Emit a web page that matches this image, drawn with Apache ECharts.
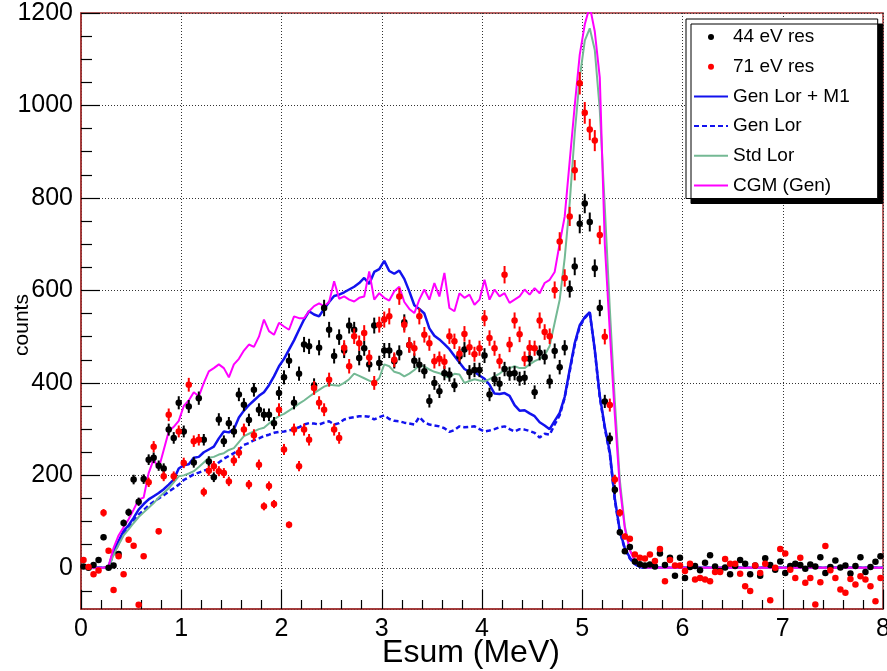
<!DOCTYPE html>
<html>
<head>
<meta charset="utf-8">
<title>Esum spectrum</title>
<script src="https://cdn.jsdelivr.net/npm/echarts@6/dist/echarts.min.js"></script>
<style>
  html, body { margin: 0; padding: 0; background: #fff; }
  #chart { width: 887px; height: 671px; }
</style>
</head>
<body>
<div id="chart"></div>
<script>
// Histogram binning (MeV)
const binStart = 0;
const binWidth = 0.05;
const xRange = [0, 8];
const yRange = [-89, 1200];
const yMinorStep = 50;

// Measured counts per bin, 44 eV resolution
const counts44 = [
  3, 0, 6, 17, 66, 0, 5, 30, 97, 120,
  191, 143, 192, 234, 238, 221, 215, 299, 281, 357,
  295, 349, 228, 367, 277, 230, 196, 321, 274, 313,
  295, 375, 353, 320, 385, 342, 331, 331, 313, 378,
  412, 448, 357, 420, 483, 479, 395, 476, 562, 515,
  458, 499, 470, 524, 515, 454, 475, 440, 524, 443,
  470, 470, 447, 465, 531, 482, 448, 439, 425, 361,
  400, 382, 421, 418, 395, 457, 472, 423, 428, 428,
  459, 375, 408, 398, 430, 420, 421, 409, 411, 452,
  380, 465, 456, 403, 469, 434, 476, 603, 652, 744,
  788, 748, 648, 562, 360, 280, 169, 77, 36, 45,
  14, 8, 5, 7, 3, 31, 6, 22, -17, 22,
  -22, 2, 4, -5, 11, 27, 3, -7, 1, -14,
  4, 17, 9, -14, 5, -17, 21, 6, -4, 14,
  -11, 4, 9, 6, -2, 7, 3, 23, -11, 2,
  16, 1, 5, -12, 4, 23, -9, 2, 13, 25
];

// Measured counts per bin, 71 eV resolution
const counts71 = [
  17, 2, -14, -6, 119, 37, -48, 25, -14, 61,
  48, -80, 25, 185, 262, 79, 198, 331, 198, 295,
  227, 396, 274, 277, 164, 210, 220, 209, 205, 187,
  232, 249, 299, 180, 287, 223, 133, 177, 138, 342,
  256, 93, 299, 220, 299, 277, 389, 357, 342, 407,
  299, 281, 476, 436, 501, 486, 508, 455, 400, 526,
  537, 544, 450, 587, 526, 482, 475, 544, 504, 486,
  447, 452, 446, 501, 490, 463, 506, 477, 462, 475,
  540, 497, 475, 447, 634, 483, 535, 505, 452, 476,
  475, 535, 510, 501, 601, 706, 627, 760, 860, 1048,
  984, 948, 924, 720, 500, 352, 191, 119, 68, 63,
  29, 22, 20, 29, 15, 41, -29, 17, 5, 5,
  -7, 9, -25, -22, -25, -29, -9, -9, 19, 9,
  9, -13, -40, -50, 5, -11, 9, -70, 0, 41,
  31, -4, -22, 22, -32, -22, -79, -31, 47, -5,
  -22, -47, -54, -24, -36, -18, -25, -40, -72, -22
];

// Model spectra, same binning
const genLorM1 = [
  0, 0, 0, 0, 0, 2, 36, 58, 80, 92,
  108, 126, 138, 148, 155, 162, 170, 180, 191, 215,
  222, 224, 238, 240, 250, 256, 262, 280, 295, 293,
  300, 325, 340, 352, 362, 372, 380, 395, 414, 436,
  452, 472, 492, 515, 537, 555, 548, 544, 560, 575,
  588, 591, 596, 602, 608, 616, 627, 614, 640, 646,
  664, 642, 636, 643, 625, 598, 568, 560, 550, 518,
  502, 494, 484, 473, 458, 444, 430, 424, 424, 416,
  409, 396, 377, 376, 378, 372, 352, 340, 341, 334,
  328, 315, 308, 300, 318, 335, 370, 429, 486, 525,
  542, 553, 472, 372, 305, 250, 150, 80, 42, 22,
  9, 2, 0, 0, 0, 0, 0, 0, 0, 0,
  0, 0, 0, 0, 0, 0, 0, 0, 0, 0,
  0, 0, 0, 0, 0, 0, 0, 0, 0, 0,
  0, 0, 0, 0, 0, 0, 0, 0, 0, 0,
  0, 0, 0, 0, 0, 0, 0, 0, 0, 0
];

const genLor = [
  0, 0, 0, 0, 0, 2, 30, 52, 75, 88,
  102, 115, 125, 135, 143, 150, 157, 165, 172, 180,
  190, 196, 202, 206, 210, 214, 218, 228, 236, 242,
  248, 256, 266, 270, 276, 280, 285, 288, 292, 294,
  295, 297, 300, 304, 310, 313, 312, 310, 314, 317,
  310, 313, 321, 324, 326, 328, 328, 327, 321, 326,
  330, 322, 318, 317, 314, 312, 310, 326, 315, 310,
  308, 306, 302, 294, 298, 306, 304, 305, 306, 300,
  295, 297, 300, 304, 306, 300, 295, 300, 299, 296,
  292, 282, 290, 288, 310, 330, 368, 425, 482, 522,
  540, 552, 470, 368, 302, 246, 146, 78, 40, 20,
  8, 2, 0, 0, 0, 0, 0, 0, 0, 0,
  0, 0, 0, 0, 0, 0, 0, 0, 0, 0,
  0, 0, 0, 0, 0, 0, 0, 0, 0, 0,
  0, 0, 0, 0, 0, 0, 0, 0, 0, 0,
  0, 0, 0, 0, 0, 0, 0, 0, 0, 0
];

const stdLor = [
  0, 0, 0, 0, 0, 1, 28, 50, 70, 83,
  97, 110, 120, 130, 140, 152, 162, 172, 185, 198,
  200, 204, 209, 218, 228, 238, 240, 245, 248, 255,
  259, 272, 285, 290, 295, 300, 303, 312, 321, 328,
  333, 340, 347, 355, 362, 370, 378, 385, 392, 396,
  395, 394, 400, 408, 420, 415, 410, 405, 400, 410,
  440, 436, 424, 421, 414, 420, 428, 438, 435, 429,
  424, 421, 415, 411, 420, 418, 400, 404, 408, 405,
  403, 408, 414, 420, 429, 432, 436, 432, 432, 440,
  447, 452, 460, 480, 530, 580, 670, 790, 940, 1060,
  1140, 1167, 1120, 990, 780, 560, 360, 190, 90, 40,
  15, 5, 1, 0, 0, 0, 0, 0, 0, 0,
  0, 0, 0, 0, 0, 0, 0, 0, 0, 0,
  0, 0, 0, 0, 0, 0, 0, 0, 0, 0,
  0, 0, 0, 0, 0, 0, 0, 0, 0, 0,
  0, 0, 0, 0, 0, 0, 0, 0, 0, 0
];

const cgmGen = [
  0, 0, 0, 0, 0, 4, 43, 70, 88, 105,
  126, 148, 152, 205, 235, 215, 255, 295, 305, 318,
  350, 362, 380, 371, 400, 425, 432, 440, 432, 412,
  440, 452, 470, 483, 478, 500, 537, 512, 504, 530,
  522, 515, 544, 540, 540, 555, 566, 572, 566, 575,
  620, 582, 587, 580, 576, 584, 587, 641, 580, 594,
  584, 578, 598, 608, 575, 560, 551, 580, 602, 580,
  616, 587, 638, 562, 555, 594, 584, 591, 569, 580,
  623, 580, 602, 587, 594, 573, 580, 587, 602, 591,
  605, 594, 616, 623, 640, 702, 760, 880, 1000, 1110,
  1175, 1215, 1160, 1060, 700, 510, 330, 175, 85, 38,
  14, 4, 1, 0, 0, 0, 0, 0, 0, 0,
  0, 0, 0, 0, 0, 0, 0, 0, 0, 0,
  0, 0, 0, 0, 0, 0, 0, 0, 0, 0,
  0, 0, 0, 0, 0, 0, 0, 0, 0, 0,
  0, 0, 0, 0, 0, 0, 0, 0, 0, 0
];

const seriesNames = ['44 eV res', '71 eV res', 'Gen Lor + M1', 'Gen Lor', 'Std Lor', 'CGM (Gen)'];
const axisTitles = { x: 'Esum (MeV)', y: 'counts' };

// ---------------------------------------------------------------
const FONT = '"Liberation Sans", Arial, Helvetica, sans-serif';
const FRAME = '#a03030';
const errScale = 0.75;

const binCenters = counts44.map((_, i) => +(binStart + binWidth * (i + 0.5)).toFixed(4));

function lineData(values) {
  const pts = values.map((v, i) => [binCenters[i], v]);
  pts.unshift([xRange[0], values[0]]);
  pts.push([xRange[1], values[values.length - 1]]);
  return pts;
}

function curve(name, values, color, width, dash, z) {
  return {
    name, type: 'line', data: lineData(values),
    symbol: 'none', smooth: false, clip: true, z,
    lineStyle: { color, width, type: dash || 'solid' },
    itemStyle: { color },
    emphasis: { disabled: true }, silent: true, animation: false
  };
}

function points(name, values, color, z) {
  return {
    name, type: 'scatter', data: values.map((v, i) => [binCenters[i], v]),
    symbol: 'circle', symbolSize: 6.5, z, clip: true,
    itemStyle: { color, opacity: 1 },
    emphasis: { disabled: true }, silent: true, animation: false
  };
}

function errorBars(name, values, color, z) {
  return {
    name, type: 'custom', z, clip: true, silent: true, animation: false,
    data: values.map((v, i) => [binCenters[i], v, errScale * Math.sqrt(Math.max(v, 0))]),
    encode: { x: 0, y: 1 },
    renderItem(params, api) {
      const x = api.value(0), y = api.value(1), e = api.value(2);
      const lo = api.coord([x, y - e]);
      const hi = api.coord([x, y + e]);
      return {
        type: 'line',
        shape: { x1: lo[0], y1: lo[1], x2: hi[0], y2: hi[1] },
        style: { stroke: color, lineWidth: 2 }
      };
    }
  };
}

const minorYTicks = [];
for (let v = Math.ceil(yRange[0] / yMinorStep) * yMinorStep; v <= yRange[1]; v += yMinorStep) {
  if (v % 200 !== 0) minorYTicks.push(v);
}

// Legend entries: curves show only their line sample, no marker dot
const hiddenDot = { color: 'rgba(0,0,0,0)', borderColor: 'rgba(0,0,0,0)', borderWidth: 0 };
const legendData = seriesNames.map((name, i) => (i < 2 ? { name } : { name, itemStyle: hiddenDot }));

const chart = echarts.init(document.getElementById('chart'), null, { renderer: 'canvas' });

chart.setOption({
  animation: false,
  backgroundColor: '#fff',
  textStyle: { fontFamily: FONT },
  grid: {
    left: 81, right: 4, top: 13, bottom: 62,
    containLabel: false, outerBoundsMode: 'none',
    show: true, borderColor: FRAME, borderWidth: 1.5, backgroundColor: 'transparent'
  },
  legend: {
    orient: 'vertical', left: 686, top: 19,
    itemWidth: 34, itemHeight: 6, itemGap: 9.7,
    padding: [8, 28, 3, 7],
    backgroundColor: '#fff', borderColor: '#000', borderWidth: 1, borderRadius: 0,
    shadowColor: '#000', shadowBlur: 0, shadowOffsetX: 5, shadowOffsetY: 5,
    selectedMode: false,
    textStyle: { fontFamily: FONT, fontSize: 19, color: '#000', lineHeight: 20 },
    data: legendData
  },
  xAxis: {
    type: 'value', min: xRange[0], max: xRange[1], interval: 1,
    name: axisTitles.x, nameLocation: 'middle', nameGap: 28, nameMoveOverlap: false,
    nameTextStyle: { fontFamily: FONT, fontSize: 32, color: '#000', padding: [0, 22, 0, 0] },
    axisLine: { show: true, onZero: false, lineStyle: { color: FRAME, width: 1.5 } },
    axisTick: { show: true, inside: true, length: 19, lineStyle: { color: '#000', width: 1.2 } },
    minorTick: { show: true, splitNumber: 5, length: 9, lineStyle: { color: '#000', width: 1.2 } },
    axisLabel: { fontFamily: FONT, fontSize: 25, color: '#000', margin: 8 },
    splitLine: { show: true, lineStyle: { color: '#333', width: 1, type: [1, 2] } }
  },
  yAxis: [{
    type: 'value', min: yRange[0], max: yRange[1], splitNumber: 6,
    name: axisTitles.y, nameLocation: 'middle', nameGap: 48, nameMoveOverlap: false,
    nameTextStyle: { fontFamily: FONT, fontSize: 21, color: '#000', padding: [0, 28, 0, 0] },
    axisLine: { show: true, onZero: false, lineStyle: { color: FRAME, width: 1.5 } },
    axisTick: { show: true, inside: true, length: 19, lineStyle: { color: '#000', width: 1.2 } },
    minorTick: { show: false },
    axisLabel: { fontFamily: FONT, fontSize: 25, color: '#000', margin: 8, showMinLabel: false,
                 formatter: v => String(v) },
    splitLine: { show: true, lineStyle: { color: '#333', width: 1, type: [1, 2] } }
  }, {
    type: 'value', min: yRange[0], max: yRange[1], position: 'left',
    axisLine: { show: false },
    axisLabel: { show: false },
    splitLine: { show: false },
    axisTick: { show: true, inside: true, length: 11, customValues: minorYTicks,
                lineStyle: { color: '#000', width: 1.2 } }
  }],
  series: [
    curve(seriesNames[2], genLorM1, '#1212ee', 2.5, null, 2),
    curve(seriesNames[3], genLor, '#1212ee', 2.5, [5, 3], 2),
    curve(seriesNames[4], stdLor, '#74b994', 2, null, 2),
    curve(seriesNames[5], cgmGen, '#ff00ff', 2, null, 2),
    errorBars('44 eV res error', counts44, '#000', 4),
    points(seriesNames[0], counts44, '#000', 5),
    errorBars('71 eV res error', counts71, '#ff0000', 6),
    points(seriesNames[1], counts71, '#ff0000', 7)
  ]
});
</script>
</body>
</html>
